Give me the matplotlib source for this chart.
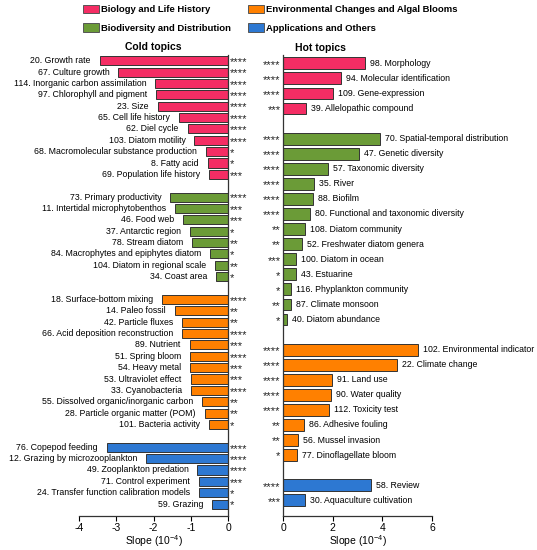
import matplotlib
matplotlib.use('Agg')
import matplotlib.pyplot as plt
from matplotlib.patches import Patch

plt.rcParams['font.family'] = ['Liberation Sans', 'DejaVu Sans']
plt.rcParams['mathtext.default'] = 'regular'
plt.rcParams['axes.unicode_minus'] = False

# Categorias y colores
cat_names = ['Biology and Life History', 'Biodiversity and Distribution',
             'Environmental Changes and Algal Blooms', 'Applications and Others']
cat_colors = ['#F42D64', '#6B9B37', '#FF8000', '#2D78D2']

# Cold topics (pendiente negativa)
cold_labels = [
    '20. Growth rate', '67. Culture growth', '114. Inorganic carbon assimilation',
    '97. Chlorophyll and pigment', '23. Size', '65. Cell life history', '62. Diel cycle',
    '103. Diatom motility', '68. Macromolecular substance production', '8. Fatty acid',
    '69. Population life history',
    '73. Primary productivity', '11. Intertidal microphytobenthos', '46. Food web',
    '37. Antarctic region', '78. Stream diatom', '84. Macrophytes and epiphytes diatom',
    '104. Diatom in regional scale', '34. Coast area',
    '18. Surface-bottom mixing', '14. Paleo fossil', '42. Particle fluxes',
    '66. Acid deposition reconstruction', '89. Nutrient', '51. Spring bloom',
    '54. Heavy metal', '53. Ultraviolet effect', '33. Cyanobacteria',
    '55. Dissolved organic/inorganic carbon', '28. Particle organic matter (POM)',
    '101. Bacteria activity',
    '76. Copepod feeding', '12. Grazing by microzooplankton', '49. Zooplankton predation',
    '71. Control experiment', '24. Transfer function calibration models', '59. Grazing',
]
cold_values = [
    -3.44, -2.94, -1.95, -1.92, -1.88, -1.31, -1.08, -0.90, -0.60, -0.55, -0.51,
    -1.55, -1.42, -1.20, -1.01, -0.97, -0.48, -0.34, -0.31,
    -1.76, -1.43, -1.24, -1.23, -1.03, -1.01, -1.01, -1.00, -0.98, -0.70, -0.63, -0.52,
    -3.25, -2.19, -0.82, -0.79, -0.78, -0.43,
]
cold_stars = [
    '****', '****', '****', '****', '****', '****', '****', '****', '*', '*', '***',
    '****', '***', '***', '*', '**', '*', '**', '*',
    '****', '**', '**', '****', '***', '****', '***', '***', '****', '**', '**', '*',
    '****', '****', '****', '***', '*', '*',
]
cold_groups = [0] * 11 + [1] * 8 + [2] * 12 + [3] * 6

# Hot topics (pendiente positiva)
hot_labels = [
    '98. Morphology', '94. Molecular identification', '109. Gene-expression',
    '39. Allelopathic compound',
    '70. Spatial-temporal distribution', '47. Genetic diversity', '57. Taxonomic diversity',
    '35. River', '88. Biofilm', '80. Functional and taxonomic diversity',
    '108. Diatom community', '52. Freshwater diatom genera', '100. Diatom in ocean',
    '43. Estuarine', '116. Phyplankton community', '87. Climate monsoon',
    '40. Diatom abundance',
    '102. Environmental indicator', '22. Climate change', '91. Land use',
    '90. Water quality', '112. Toxicity test', '86. Adhesive fouling',
    '56. Mussel invasion', '77. Dinoflagellate bloom',
    '58. Review', '30. Aquaculture cultivation',
]
hot_values = [
    3.32, 2.34, 2.03, 0.94,
    3.89, 3.06, 1.83, 1.26, 1.21, 1.07, 0.89, 0.75, 0.52, 0.51, 0.34, 0.31, 0.16,
    5.42, 4.59, 1.97, 1.92, 1.84, 0.83, 0.62, 0.55,
    3.53, 0.90,
]
hot_stars = [
    '****', '****', '****', '***',
    '****', '****', '****', '****', '****', '****', '**', '**', '***', '*', '*', '**', '*',
    '****', '****', '****', '****', '****', '**', '**', '*',
    '****', '***',
]
hot_groups = [0] * 4 + [1] * 13 + [2] * 8 + [3] * 2


def row_positions(groups):
    # una fila vacia entre grupos
    pos, row = [], 0
    for i, g in enumerate(groups):
        if i > 0 and g != groups[i - 1]:
            row += 1
        pos.append(row)
        row += 1
    return pos


fig = plt.figure(figsize=(5.37, 5.5), dpi=100)
ax1 = fig.add_axes([79 / 537, 1 - 516 / 550, 149 / 537, 461 / 550])
ax2 = fig.add_axes([283 / 537, 1 - 516 / 550, 149 / 537, 461 / 550])

# Panel izquierdo
pos1 = row_positions(cold_groups)
ax1.barh(pos1, cold_values, height=0.8, color=[cat_colors[g] for g in cold_groups],
         edgecolor='#333333', linewidth=0.7)
for y, v, lab, st in zip(pos1, cold_values, cold_labels, cold_stars):
    ax1.annotate(lab, (v, y), xytext=(-6.5, 0), textcoords='offset points',
                 ha='right', va='center', fontsize=6.3, annotation_clip=False)
    ax1.annotate(st, (0, y), xytext=(1.5, -1.0), textcoords='offset points',
                 ha='left', va='center', fontsize=8, color='#222222',
                 annotation_clip=False)
ax1.set_xlim(-4, 0)
ax1.set_ylim(pos1[-1] + 1.05, -0.5)
ax1.spines['top'].set_visible(False)
ax1.spines['left'].set_visible(False)

# Panel derecho
pos2 = row_positions(hot_groups)
ax2.barh(pos2, hot_values, height=0.78, color=[cat_colors[g] for g in hot_groups],
         edgecolor='#333333', linewidth=0.7)
for y, v, lab, st in zip(pos2, hot_values, hot_labels, hot_stars):
    ax2.annotate(lab, (v, y), xytext=(3.6, 0), textcoords='offset points',
                 ha='left', va='center', fontsize=6.3, annotation_clip=False)
    ax2.annotate(st, (0, y), xytext=(-1.7, -1.0), textcoords='offset points',
                 ha='right', va='center', fontsize=8, color='#222222',
                 annotation_clip=False)
ax2.set_xlim(0, 6)
ax2.set_ylim(pos2[-1] + 1.04, -0.55)
ax2.spines['top'].set_visible(False)
ax2.spines['right'].set_visible(False)

for ax in (ax1, ax2):
    ax.set_yticks([])
    ax.tick_params(axis='x', labelsize=7.5, length=3.5, width=0.8, pad=1.5)
    for s in ax.spines.values():
        s.set_linewidth(0.9)
        s.set_color('#333333')
    ax.set_xlabel('Slope (10$^{-4}$)', fontsize=7.5, labelpad=0)

fig.text(153.5 / 537, 1 - 47 / 550, 'Cold topics', fontsize=7.5, fontweight='bold',
         ha='center', va='center')
fig.text(320 / 537, 1 - 48 / 550, 'Hot topics', fontsize=7.5, fontweight='bold',
         ha='center', va='center')

# Leyenda
handles = [Patch(facecolor=c, edgecolor='#555555', linewidth=0.7) for c in cat_colors]
fig.legend(handles, cat_names,
           loc='upper left', bbox_to_anchor=(83 / 537, 1 - 5 / 550), ncol=2,
           frameon=False, prop={'weight': 'bold', 'size': 6.8},
           handlelength=1.7, handleheight=1.0, handletextpad=0.2,
           columnspacing=1.8, labelspacing=0.95, borderpad=0, borderaxespad=0)

fig.savefig('out.png', dpi=100)
